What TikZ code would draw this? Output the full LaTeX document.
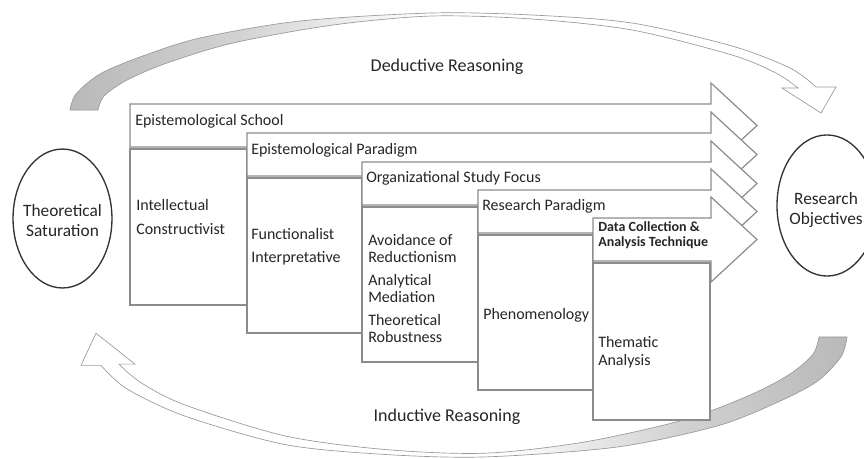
\documentclass[tikz,border=0pt]{standalone}
\usepackage{fontspec}
\setmainfont{Carlito}
\usetikzlibrary{positioning}

% fade of the curved reasoning arrows: grey tail, white head
\pgfdeclarehorizontalshading{arcfade}{100bp}{color(0bp)=(gray!55); color(25bp)=(gray!55);
  color(36bp)=(gray!35); color(48bp)=(white); color(100bp)=(white)}

\newcommand{\reasonarc}[1]{%
  \shade[arcbody,#1]
    plot[smooth] coordinates {(70,110) (76,94) (100,74) (140,57) (200,38) (300,21)
      (432,13) (532,15) (632,23) (732,46) (790,68) (816,87)}
    -- (836,87) -- (821,113) -- (782,88) -- (798,88)
    -- plot[smooth] coordinates {(798,88) (776,73) (732,55) (632,30) (532,19)
      (432,16) (333,25) (233,43) (167,63) (127,80) (104,96) (98,110)}
    -- cycle;}

\begin{document}
\begin{tikzpicture}[
    x=0.75pt, y=-0.75pt,
    stage/.style={draw=gray!90, fill=white, line width=0.9pt},
    stagebox/.style={draw=gray!90, fill=white, line width=0.9pt},
    stagetext/.style={anchor=west, inner sep=0pt, align=left, text=black!85,
                      font=\fontsize{12}{17.5}\selectfont},
    goal/.style={inner sep=0pt, align=center, text=black!85,
                 font=\fontsize{13}{15}\selectfont},
    goalring/.style={draw=black!80, line width=1pt},
    arcbody/.style={draw=gray!80, line width=0.5pt, shading=arcfade},
    reasontext/.style={inner sep=0pt, text=black!85, font=\fontsize{13.5}{16}\selectfont}
]
\path[use as bounding box, fill=white] (0,0) rectangle (864,458);

% curved reasoning arrows
\reasonarc{}
\reasonarc{shift={(917,473)}, xscale=-1, yscale=-1.237, shading angle=180}
\node[reasontext] (deductive) at (447,67) {Deductive Reasoning};
\node[reasontext] (inductive) at (447,417) {Inductive Reasoning};

% end points
\node[goal] (saturation) at (62.5,221) {Theoretical\\Saturation};
\draw[goalring] (62.5,218.5) ellipse [x radius=37.1pt, y radius=52.1pt];
\node[goal] (objectives) at (826,210) {Research\\Objectives};
\draw[goalring] (827,205.5) ellipse [x radius=37.5pt, y radius=52.9pt];

% stair of stages
\draw[stage] (130,104) -- (711,104) -- (711,83) -- (757,125.5) -- (711,168) -- (711,147) -- (130,147) -- cycle;
\draw[stagebox] (130,149) rectangle (247,305);
\draw[stage] (247,133) -- (711,133) -- (711,112) -- (757,154.5) -- (711,197) -- (711,176) -- (247,176) -- cycle;
\draw[stagebox] (247,178) rectangle (362,333);
\draw[stage] (362,162) -- (711,162) -- (711,141) -- (757,183.5) -- (711,226) -- (711,205) -- (362,205) -- cycle;
\draw[stagebox] (362,207) rectangle (478,362);
\draw[stage] (478,190) -- (711,190) -- (711,169) -- (757,211.5) -- (711,254) -- (711,233) -- (478,233) -- cycle;
\draw[stagebox] (478,235) rectangle (593,390);
\draw[stage] (593,218) -- (711,218) -- (711,197) -- (757,239.5) -- (711,282) -- (711,261) -- (593,261) -- cycle;
\draw[stagebox] (593,263) rectangle (710,420);

% stage titles
\node[stagetext] (school) at (135,121) {Epistemological School};
\node[stagetext] (paradigm) at (251,150) {Epistemological Paradigm};
\node[stagetext] (focus) at (366,178) {Organizational Study Focus};
\node[stagetext] (research) at (482,206) {Research Paradigm};
\node[stagetext, font=\bfseries\fontsize{10.5}{11.5}\selectfont] (technique) at (598,235)
    {Data Collection \&\\Analysis Technique};

% stage contents
\node[stagetext, font=\fontsize{12}{18}\selectfont] (constructivist) at (136,217)
    {Intellectual\\Constructivist};
\node[stagetext, font=\fontsize{12}{17.25}\selectfont] (interpretative) at (251,246.5)
    {Functionalist\\Interpretative};
\node[stagetext, font=\fontsize{12}{12.75}\selectfont] (mediation) at (368,288)
    {Avoidance of\\Reductionism\\[4.5pt]Analytical\\Mediation\\[4.5pt]Theoretical\\Robustness};
\node[stagetext] (phenomenology) at (483,315) {Phenomenology};
\node[stagetext, font=\fontsize{12}{13.5}\selectfont] (thematic) at (598,352)
    {Thematic\\Analysis};
\end{tikzpicture}
\end{document}
